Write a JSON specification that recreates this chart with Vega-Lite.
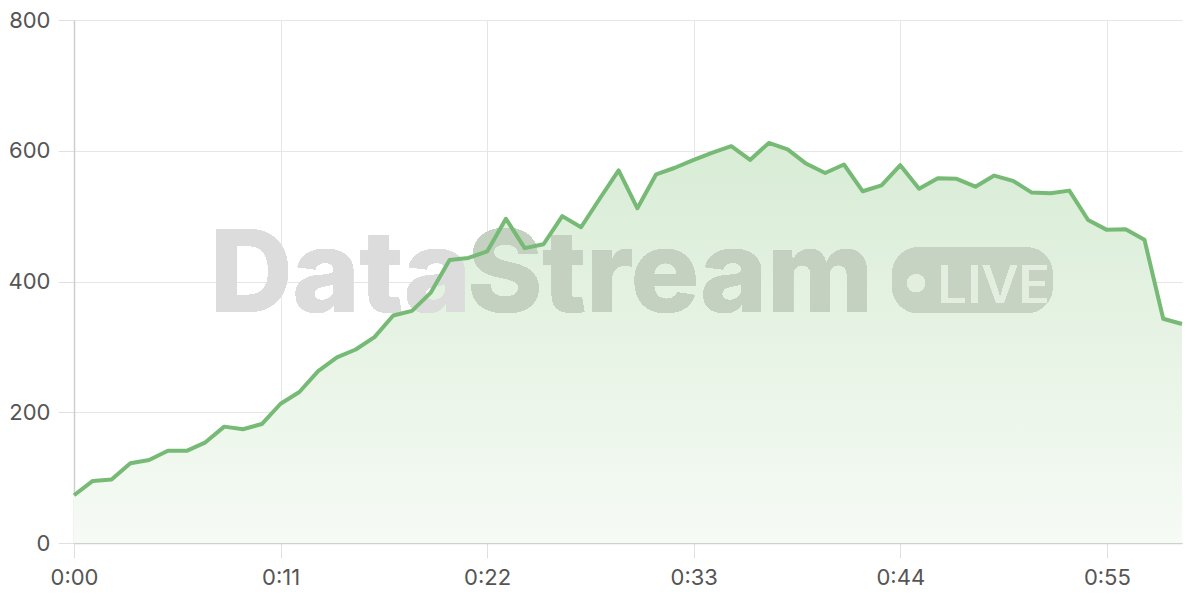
{
  "$schema": "https://vega.github.io/schema/vega-lite/v6.json",
  "width": 1108,
  "height": 523,
  "autosize": {"type": "none"},
  "padding": {"left": 74, "top": 20, "right": 18, "bottom": 57},
  "background": "#ffffff",
  "config": {
    "view": {"stroke": null},
    "font": "Inter"
  },
  "data": {
    "values": [
      {"t": 0, "v": 73}, {"t": 1, "v": 95}, {"t": 2, "v": 97}, {"t": 3, "v": 122}, {"t": 4, "v": 127},
      {"t": 5, "v": 141}, {"t": 6, "v": 141}, {"t": 7, "v": 154}, {"t": 8, "v": 178}, {"t": 9, "v": 174},
      {"t": 10, "v": 182}, {"t": 11, "v": 213}, {"t": 12, "v": 231}, {"t": 13, "v": 263}, {"t": 14, "v": 284},
      {"t": 15, "v": 296}, {"t": 16, "v": 315}, {"t": 17, "v": 348}, {"t": 18, "v": 355}, {"t": 19, "v": 383},
      {"t": 20, "v": 433}, {"t": 21, "v": 436}, {"t": 22, "v": 446}, {"t": 23, "v": 496}, {"t": 24, "v": 451},
      {"t": 25, "v": 457}, {"t": 26, "v": 500}, {"t": 27, "v": 483}, {"t": 28, "v": 527}, {"t": 29, "v": 570},
      {"t": 30, "v": 512}, {"t": 31, "v": 564}, {"t": 32, "v": 574}, {"t": 33, "v": 586}, {"t": 34, "v": 597},
      {"t": 35, "v": 607}, {"t": 36, "v": 586}, {"t": 37, "v": 612}, {"t": 38, "v": 602}, {"t": 39, "v": 580},
      {"t": 40, "v": 566}, {"t": 41, "v": 579}, {"t": 42, "v": 538}, {"t": 43, "v": 547}, {"t": 44, "v": 578},
      {"t": 45, "v": 542}, {"t": 46, "v": 558}, {"t": 47, "v": 557}, {"t": 48, "v": 545}, {"t": 49, "v": 562},
      {"t": 50, "v": 554}, {"t": 51, "v": 536}, {"t": 52, "v": 535}, {"t": 53, "v": 539}, {"t": 54, "v": 494},
      {"t": 55, "v": 479}, {"t": 56, "v": 480}, {"t": 57, "v": 464}, {"t": 58, "v": 343}, {"t": 59, "v": 335}
    ]
  },
  "encoding": {
    "x": {
      "field": "t",
      "type": "quantitative",
      "scale": {"domain": [0, 59], "nice": false, "zero": false},
      "axis": {
        "values": [0, 11, 22, 33, 44, 55],
        "labelExpr": "'0:' + (datum.value < 10 ? '0' : '') + datum.value",
        "title": null,
        "grid": true,
        "gridColor": "#e6e6e6",
        "gridWidth": 1,
        "domainColor": "#cfcfcf",
        "domainWidth": 1.5,
        "tickColor": "#e0e0e0",
        "tickSize": 15,
        "labelFontSize": 22,
        "labelColor": "#555555",
        "labelPadding": 9,
        "labelFlush": false,
        "labelFont": "Inter"
      }
    },
    "y": {
      "field": "v",
      "type": "quantitative",
      "scale": {"domain": [0, 800], "nice": false},
      "axis": {
        "values": [0, 200, 400, 600, 800],
        "title": null,
        "grid": true,
        "gridColor": "#e6e6e6",
        "gridWidth": 1,
        "domainColor": "#cfcfcf",
        "domainWidth": 1.5,
        "tickColor": "#e0e0e0",
        "tickSize": 16,
        "labelFontSize": 22,
        "labelColor": "#555555",
        "labelPadding": 8,
        "labelFlush": false,
        "labelFont": "Inter"
      }
    }
  },
  "layer": [
    {
      "mark": {
        "type": "area",
        "fill": {
          "gradient": "linear",
          "x1": 0, "y1": 0, "x2": 0, "y2": 1,
          "stops": [
            {"offset": 0, "color": "#d8ecd5"},
            {"offset": 1, "color": "#f6fbf5"}
          ]
        }
      }
    },
    {
      "mark": {"type": "text", "text": "Data", "font": "Inter", "fontWeight": 800, "fontSize": 114, "align": "left", "baseline": "alphabetic", "fill": "#dcdcdc", "letterSpacing": -3},
      "encoding": {"x": {"datum": 7.25}, "y": {"datum": 353}}
    },
    {
      "mark": {"type": "text", "text": "Stream", "font": "Inter", "fontWeight": 800, "fontSize": 114, "align": "right", "baseline": "alphabetic", "fill": "#c4d1c1", "letterSpacing": -3},
      "encoding": {"x": {"datum": 42.55}, "y": {"datum": 353}}
    },
    {
      "mark": {"type": "rect", "fill": "#c6d3c3", "cornerRadius": 26},
      "encoding": {"x": {"datum": 43.58}, "x2": {"datum": 52.1}, "y": {"datum": 452}, "y2": {"datum": 352}}
    },
    {
      "mark": {"type": "point", "shape": "circle", "filled": true, "fill": "#e3eee1", "opacity": 1, "size": 320, "strokeWidth": 0},
      "encoding": {"x": {"datum": 44.84}, "y": {"datum": 397.6}}
    },
    {
      "mark": {"type": "text", "text": "LIVE", "font": "Inter", "fontWeight": 500, "fontSize": 52, "letterSpacing": -6, "align": "left", "baseline": "alphabetic", "fill": "#e3eee1"},
      "encoding": {"x": {"datum": 46.0}, "y": {"datum": 367}}
    },
    {
      "mark": {"type": "line", "color": "#76ba76", "strokeWidth": 4, "strokeJoin": "round"}
    }
  ]
}
